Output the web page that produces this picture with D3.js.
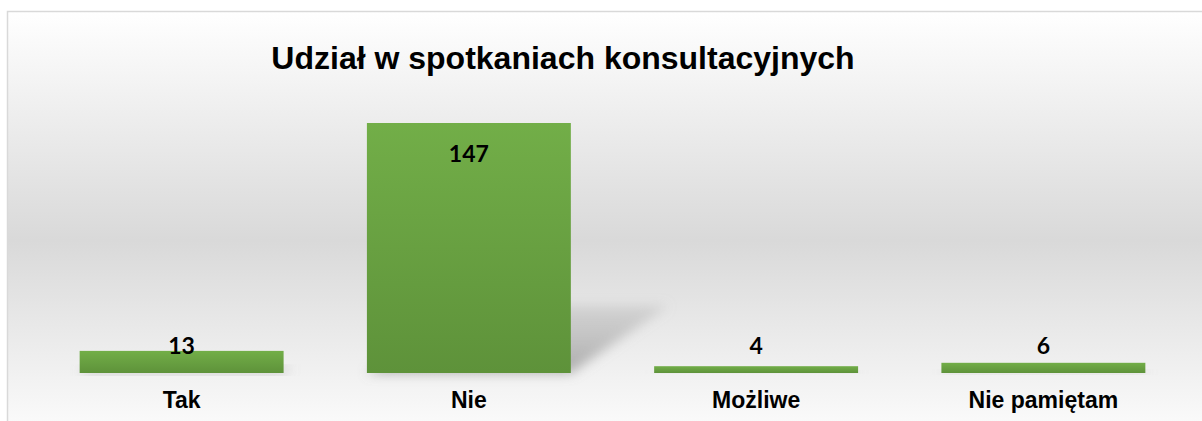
<!DOCTYPE html>
<html>
<head>
<meta charset="utf-8">
<script src="https://cdn.jsdelivr.net/npm/d3@7"></script>
<style>
  html, body { margin: 0; padding: 0; background: #fff; }
  svg { display: block; }
</style>
</head>
<body>
<svg id="chart"></svg>
<script>
// chart data
const categories = ["Tak", "Nie", "Możliwe", "Nie pamiętam"];
const values = [13, 147, 4, 6];
const title = "Udział w spotkaniach konsultacyjnych";

const W = 1202, H = 421;
const svg = d3.select("#chart").attr("width", W).attr("height", H);
const defs = svg.append("defs");

// background gradient (white -> grey -> white)
const bg = defs.append("linearGradient").attr("id", "bg")
  .attr("x1", 0).attr("y1", 0).attr("x2", 0).attr("y2", 1);
bg.append("stop").attr("offset", "0%").attr("stop-color", "#ffffff");
bg.append("stop").attr("offset", "52%").attr("stop-color", "#d9d9d9");
bg.append("stop").attr("offset", "100%").attr("stop-color", "#ffffff");

const barGrad = defs.append("linearGradient").attr("id", "bar")
  .attr("x1", 0).attr("y1", 0).attr("x2", 0).attr("y2", 1);
barGrad.append("stop").attr("offset", "0%").attr("stop-color", "#72ae48");
barGrad.append("stop").attr("offset", "100%").attr("stop-color", "#5e923a");

const shadowGrad = defs.append("linearGradient").attr("id", "shad")
  .attr("x1", 0).attr("y1", 1).attr("x2", 0).attr("y2", 0);
shadowGrad.append("stop").attr("offset", "0%").attr("stop-color", "#8c8c8c").attr("stop-opacity", 0.7);
shadowGrad.append("stop").attr("offset", "100%").attr("stop-color", "#a6a6a6").attr("stop-opacity", 0.3);

defs.append("filter").attr("id", "blur")
  .attr("x", "-20%").attr("y", "-40%").attr("width", "140%").attr("height", "180%")
  .append("feGaussianBlur").attr("stdDeviation", 6);

// chart frame
svg.append("rect")
  .attr("x", 7.5).attr("y", 11.5)
  .attr("width", W).attr("height", 440)
  .attr("fill", "url(#bg)")
  .attr("stroke", "#d9d9d9").attr("stroke-width", 1.5);

svg.append("text")
  .attr("x", 563).attr("y", 69)
  .attr("text-anchor", "middle")
  .attr("font-family", "Liberation Sans, Arial, sans-serif")
  .attr("font-weight", "bold")
  .attr("font-size", 32)
  .attr("fill", "#000")
  .text(title);

const margin = { left: 38, right: 15, top: 123, bottom: 48 };
const baseY = H - margin.bottom; // 373

const x = d3.scaleBand()
  .domain(categories)
  .range([margin.left, W - margin.right])
  .paddingInner(0.29)
  .paddingOuter(0.145);

const y = d3.scaleLinear()
  .domain([0, d3.max(values)])
  .range([baseY, margin.top]);

const data = categories.map((c, i) => ({ cat: c, val: values[i] }));

// perspective shadows behind bars
svg.append("g").selectAll("path")
  .data(data)
  .join("path")
  .attr("d", d => {
    const h = baseY - y(d.val);
    const x0 = x(d.cat), x1 = x0 + x.bandwidth();
    const dy = h * 0.27, dx = dy * 1.45;
    return `M${x0},${baseY}L${x1},${baseY}L${x1 + dx},${baseY - dy}L${x0 + dx},${baseY - dy}Z`;
  })
  .attr("fill", "url(#shad)")
  .attr("filter", "url(#blur)");

// bars
svg.append("g").selectAll("rect")
  .data(data)
  .join("rect")
  .attr("x", d => x(d.cat))
  .attr("y", d => y(d.val))
  .attr("width", x.bandwidth())
  .attr("height", d => baseY - y(d.val))
  .attr("fill", "url(#bar)");

// value labels
svg.append("g").selectAll("text")
  .data(data)
  .join("text")
  .attr("x", d => x(d.cat) + x.bandwidth() / 2)
  .attr("y", d => Math.min(y(d.val) + 39, baseY - 19))
  .attr("text-anchor", "middle")
  .attr("font-family", "Lato, 'Open Sans', sans-serif")
  .attr("font-weight", "bold")
  .attr("font-size", 23)
  .attr("fill", "#000")
  .text(d => d.val);

// category axis labels
const axis = svg.append("g")
  .attr("transform", `translate(0,${baseY})`)
  .call(d3.axisBottom(x).tickSize(0));
axis.select(".domain").remove();
axis.selectAll("text")
  .attr("dy", 0)
  .attr("y", 35)
  .attr("font-family", "Liberation Sans, Arial, sans-serif")
  .attr("font-weight", "bold")
  .attr("font-size", 23)
  .attr("fill", "#000");
</script>
</body>
</html>
